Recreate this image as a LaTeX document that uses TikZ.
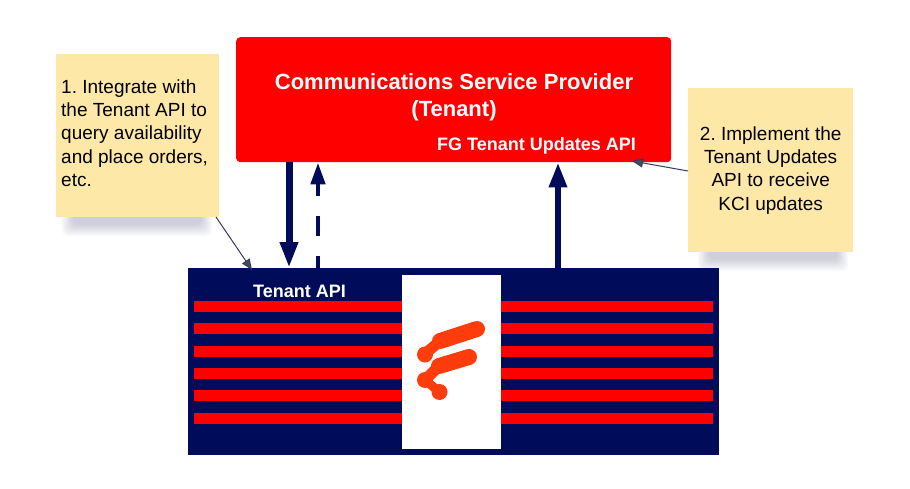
\documentclass[tikz,border=0pt]{standalone}
\usepackage{fontspec}
\setmainfont{Liberation Sans}
\usetikzlibrary{arrows.meta}
\frenchspacing
\definecolor{navy}{HTML}{000C5A}
\definecolor{notefill}{HTML}{FEE8A8}
\definecolor{logored}{HTML}{FF3D0C}
\tikzset{
	note/.style={fill=notefill, inner sep=0pt, minimum width=163pt, minimum height=163pt},
	notetext/.style={inner sep=0pt, font=\fontsize{19}{23.3}\selectfont},
	stripe/.style={fill=red, draw=none},
	titletext/.style={text=white, font=\bfseries\fontsize{22}{27}\selectfont, align=center},
	apitext/.style={text=white, font=\bfseries\fontsize{18}{20}\selectfont},
	pointer/.style={draw=navy!60!gray, line width=1pt, -{Triangle[length=11pt, width=9pt, fill=black!70]}},
	logoline/.style={draw=logored, line cap=round, line width=16pt},
	logostem/.style={draw=logored, line width=11pt}
}
\begin{document}
\begin{tikzpicture}[x=1pt, y=-1pt]
		\useasboundingbox (0,0) rectangle (910,489);
		% Soft shadows under the notes
		\foreach \sx/\sy in {62/217, 698/252} {
			\foreach \g in {0,...,9} {
				\fill[black!60!blue!40!gray, opacity=0.03, rounded corners=6pt] (\sx+1.2*\g,\sy-4) rectangle (\sx+150-1.2*\g,\sy+19-1.3*\g);
			}
		}
		\node[note, anchor=north west] (step1) at (56,54) {};
		\node[notetext, align=left, anchor=west] (step1text) at (61,133) {1. Integrate with\\the Tenant API to\\query availability\\and place orders,\\etc.};
		\node[note, minimum width=165pt, minimum height=164pt, anchor=north west] (step2) at (688,88) {};
		\node[notetext, align=center] (step2text) at (step2.center) {2. Implement the\\Tenant Updates\\API to receive\\KCI updates};
		\node[fill=red, rounded corners=4pt, minimum width=435pt, minimum height=125pt, anchor=north west] (csp) at (236,37) {};
		\node[titletext, anchor=center] (csptitle) at (454,97.5) {Communications Service Provider\\(Tenant)};
		\node[apitext, anchor=center] (updatesapi) at (536.5,146) {FG Tenant Updates API};
		\node[fill=navy, minimum width=531pt, minimum height=187pt, anchor=north west] (gateway) at (188,268) {};
		\node[apitext, anchor=center] (tenantapi) at (299.5,291) {Tenant API};
		% Stripes either side of the logo panel
		\foreach \y in {301,323,345.5,368,390,412.5} {
			\fill[stripe] (194,\y) rectangle (402,\y+11);
			\fill[stripe] (501,\y) rectangle (713,\y+11);
		}
		\node[fill=white, minimum width=99pt, minimum height=174pt, anchor=north west] (panel) at (402,275) {};
		% Logo
		\draw[logoline] (440,341) -- (477,329);
		\draw[logoline] (439,366) -- (469,357);
		\draw[logoline] (425,354.5) -- (425,354.5);
		\draw[logoline] (425,380) -- (425,380);
		\draw[logoline] (439.5,392) -- (439.5,392);
		\draw[logostem] (427,352) -- (438,343);
		\draw[logostem] (427,378) -- (438,367);
		\draw[logostem, line width=9pt] (425,380) -- (439.5,392);
		% API arrows
		\coordinate (downx) at (289,0);
		\coordinate (dashx) at (318,0);
		\coordinate (upx) at (558,0);
		\draw[navy, line width=7pt, -{Triangle[length=26pt, width=17pt]}] (csp.south -| downx) -- (gateway.north -| downx);
		\draw[navy, line width=4.5pt, dash pattern=on 12pt off 20pt on 20pt off 20pt on 40pt, -{Triangle[length=22pt, width=14pt]}] (gateway.north -| dashx) -- (csp.south -| dashx);
		\draw[navy, line width=6pt, -{Triangle[length=25pt, width=17pt]}] (gateway.north -| upx) -- (csp.south -| upx);
		% Note pointers
		\coordinate (tip1) at (252,270);
		\coordinate (tip2) at (632,161);
		\draw[pointer] (216,217) -- (tip1);
		\draw[pointer] (step2.west |- 0,171) -- (tip2);
	\end{tikzpicture}
\end{document}
